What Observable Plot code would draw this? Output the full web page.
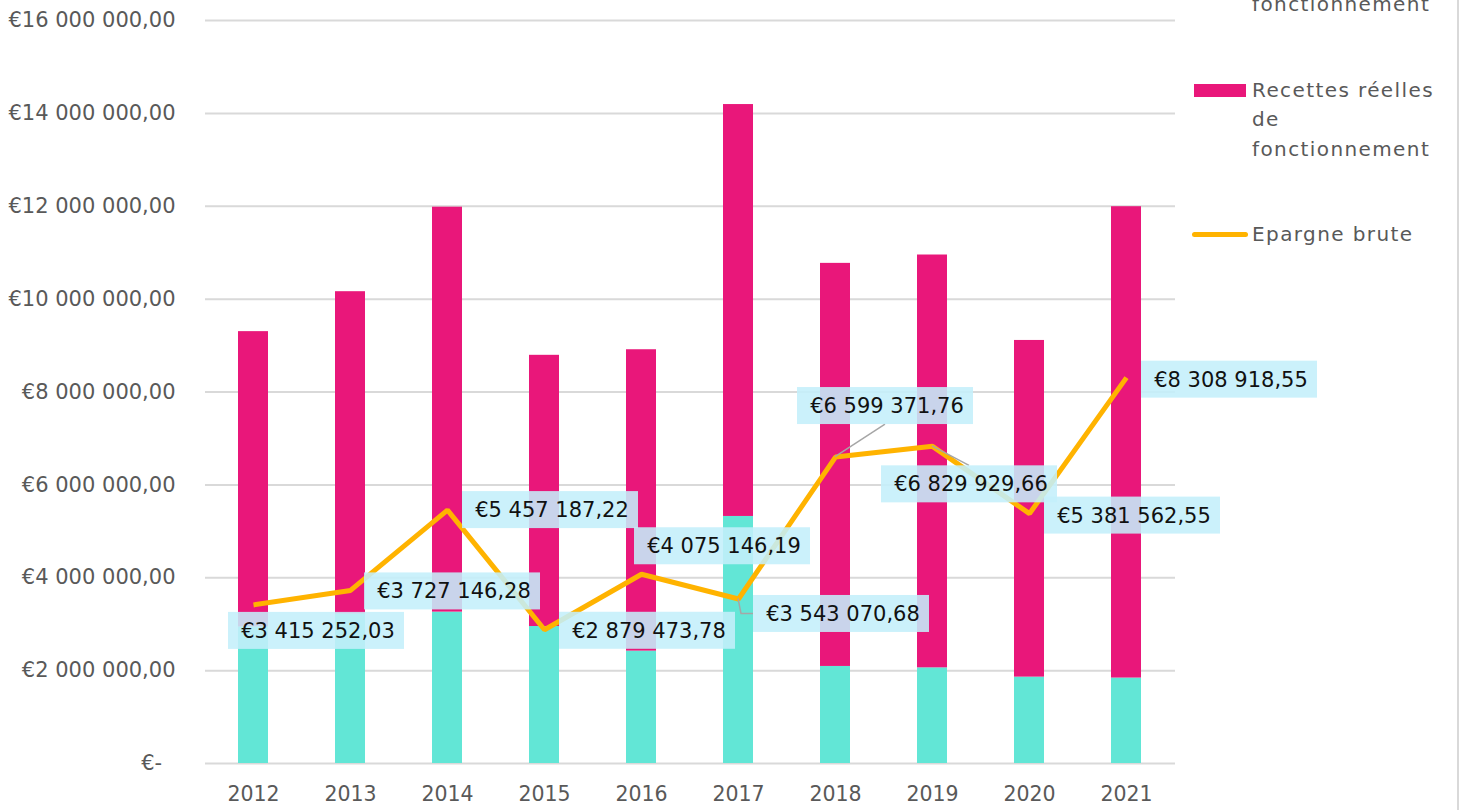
<!DOCTYPE html>
<html>
<head>
<meta charset="utf-8">
<script src="https://cdn.jsdelivr.net/npm/d3@7"></script>
<script src="https://cdn.jsdelivr.net/npm/@observablehq/plot@0.6"></script>
<style>
  html, body { margin: 0; padding: 0; background: #fff; overflow: hidden; }
  #wrap { position: relative; width: 1465px; height: 810px; overflow: hidden; }
  #chart { position: absolute; left: 0; top: 0; }
  #border { position: absolute; left: 1457px; top: 0; width: 2px; height: 810px; background: #d9d9d9; }
  #legend { position: absolute; left: 1192px; top: -69px; font-family: "DejaVu Sans", sans-serif; font-size: 20px; color: #595959; letter-spacing: 1.4px; }
  .item { position: relative; padding-left: 60px; line-height: 29.5px; margin-bottom: 56px; }
  .sw { position: absolute; left: 2px; top: 8px; width: 52px; height: 13px; }
  .ln { position: absolute; left: 0; top: 12px; width: 56px; height: 5px; border-radius: 3px; }
</style>
</head>
<body>
<div id="wrap">
  <div id="chart"></div>
  <div id="border"></div>
  <div id="legend"></div>
</div>
<script>
// ---- data ----
const years = ["2012","2013","2014","2015","2016","2017","2018","2019","2020","2021"];
const depenses = [2940000, 3220000, 3260000, 2950000, 2420000, 5320000, 2090000, 2060000, 1860000, 1840000];
const recettes = [6360000, 6940000, 8720000, 5840000, 6490000, 8870000, 8680000, 8890000, 7250000, 10150000];
const epargne = [3415252.03, 3727146.28, 5457187.22, 2879473.78, 4075146.19, 3543070.68, 6599371.76, 6829929.66, 5381562.55, 8308918.55];
const yTicks = [0, 2000000, 4000000, 6000000, 8000000, 10000000, 12000000, 14000000, 16000000];
const seriesNames = ["Dépenses réelles de fonctionnement", "Recettes réelles de fonctionnement", "Epargne brute"];
const seriesColors = ["#62e6d6", "#e9177a", "#ffb300"];

// label placement (pixel offsets of the label box centre from its point) and leader style
const labelOffsets = [[63, 26], [102, 1], [103, 0], [103, 1], [81, -28], [103, 15], [50, -51], [37, 38], [103, 2], [103, 2]];
const leaders = [null, null, null, null, null, "elbow", "bottom", "top", null, null];

// ---- tables ----
const bars = [];
years.forEach((y, i) => {
  bars.push({year: y, serie: seriesNames[0], value: depenses[i]});
  bars.push({year: y, serie: seriesNames[1], value: recettes[i]});
});
const line = years.map((y, i) => ({year: y, value: epargne[i]}));

const fmtNum = (v) => {
  const [int, dec] = v.toFixed(2).split(".");
  return int.replace(/\B(?=(\d{3})+(?!\d))/g, " ") + "," + dec;
};
const fmtEuro = (v) => v === 0 ? "€-\u00a0\u00a0" : "€" + fmtNum(v);

const BOX_W = 176, BOX_H = 37;

const labelMark = Plot.dot(line, {
  x: "year", y: "value", r: 0,
  render(index, scales, values, dimensions, context) {
    const bw = scales.x && scales.x.bandwidth ? scales.x.bandwidth() / 2 : 0;
    const g = d3.create("svg:g");
    for (const i of index) {
      const px = values.x[i] + bw;
      const py = values.y[i];
      const [dx, dy] = labelOffsets[i];
      const cx = px + dx, cy = py + dy;
      const left = cx - BOX_W / 2, top = cy - BOX_H / 2;
      const kind = leaders[i];
      if (kind) {
        let d;
        if (kind === "elbow") d = `M${px},${py}L${px + 3},${cy}L${left},${cy}`;
        else if (kind === "bottom") d = `M${px},${py}L${cx},${top + BOX_H}`;
        else d = `M${px},${py}L${cx},${top}`;
        g.append("path").attr("d", d).attr("fill", "none").attr("stroke", "#a6a6a6").attr("stroke-width", 1.5);
      }
      g.append("rect").attr("x", left).attr("y", top).attr("width", BOX_W).attr("height", BOX_H)
        .attr("fill", "#c4effb").attr("fill-opacity", 0.88);
      g.append("text").attr("x", cx + 2).attr("y", cy).attr("dy", "0.36em")
        .attr("text-anchor", "middle").attr("fill", "#111")
        .attr("font-family", "DejaVu Sans, sans-serif").attr("font-size", 21)
        .text("€" + fmtNum(epargne[i]));
    }
    return g.node();
  }
});

const chart = Plot.plot({
  width: 1465,
  height: 810,
  marginLeft: 205,
  marginRight: 290,
  marginTop: 20,
  marginBottom: 47,
  style: {fontFamily: "DejaVu Sans, sans-serif", background: "transparent"},
  x: {domain: years, paddingInner: 0.69, paddingOuter: 0.345, label: null},
  y: {domain: [0, 16000000], label: null},
  color: {domain: seriesNames, range: seriesColors},
  marks: [
    Plot.ruleY(yTicks, {stroke: "#d9d9d9", strokeWidth: 2}),
    Plot.axisY({ticks: yTicks, tickFormat: fmtEuro, tickSize: 0, tickPadding: 30, fontSize: 21, fill: "#595959", label: null}),
    Plot.axisX({tickSize: 0, tickPadding: 23, fontSize: 20.5, fill: "#595959", label: null}),
    Plot.barY(bars, {x: "year", y: "value", fill: "serie"}),
    Plot.line(line, {x: "year", y: "value", stroke: seriesColors[2], strokeWidth: 5, strokeLinejoin: "miter", strokeLinecap: "butt"}),
    labelMark
  ]
});
document.getElementById("chart").appendChild(chart);

// ---- legend ----
const legendItems = [
  {name: ["Dépenses réelles", "de", "fonctionnement"], color: seriesColors[0], kind: "sw"},
  {name: ["Recettes réelles", "de", "fonctionnement"], color: seriesColors[1], kind: "sw"},
  {name: ["Epargne brute"], color: seriesColors[2], kind: "ln"}
];
const legend = d3.select("#legend");
legendItems.forEach(it => {
  const div = legend.append("div").attr("class", "item");
  div.append("div").attr("class", it.kind).style("background", it.color);
  div.append("div").html(it.name.join("<br>"));
});
</script>
</body>
</html>
